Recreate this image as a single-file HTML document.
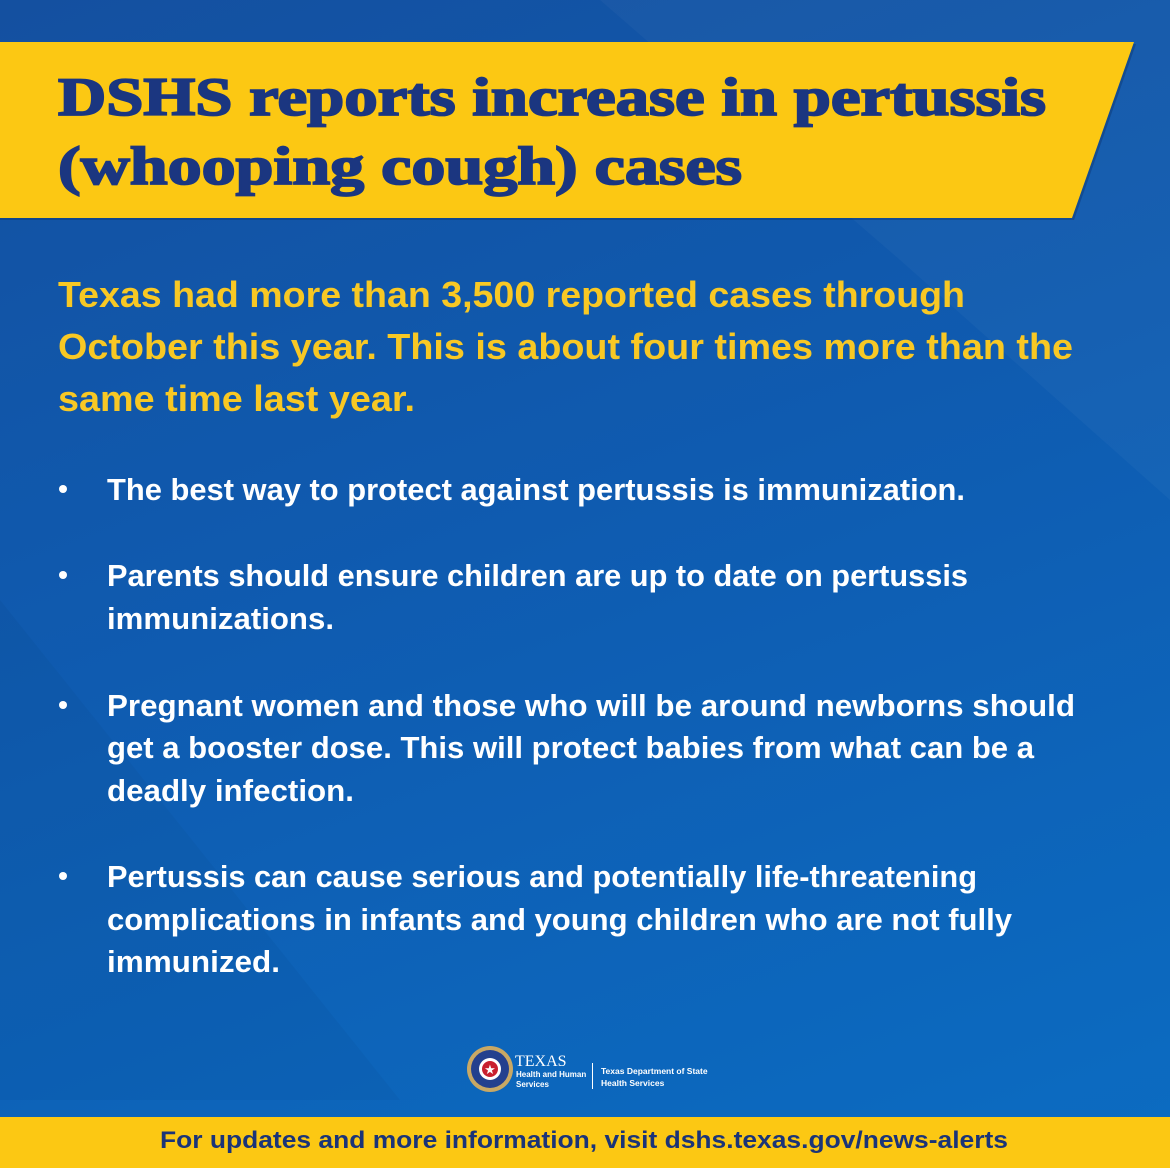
<!DOCTYPE html>
<html><head><meta charset="utf-8"><style>
html,body{margin:0;padding:0;}
body{width:1170px;height:1168px;overflow:hidden;background:linear-gradient(160deg,#1450a0 0%,#0f5bb0 45%,#0b6cc2 100%);}
svg{display:block}
.y{fill:#f8c824;font-family:"Liberation Sans",sans-serif;font-weight:bold;font-size:36px}
.w{fill:#ffffff;font-family:"Liberation Sans",sans-serif;font-weight:bold;font-size:31px}
.t{fill:#1b3680;stroke:#1b3680;stroke-width:1.8px;font-family:"Liberation Serif",serif;font-weight:bold;font-size:54px}
</style></head><body>
<svg width="1170" height="1168" viewBox="0 0 1170 1168">
<polygon points="600,0 1170,0 1170,500 900,260" fill="#ffffff" opacity="0.03"/>
<polygon points="0,600 400,1100 0,1100" fill="#000000" opacity="0.03"/>
<polygon points="0,44 1136,44 1074,220 0,220" fill="#0a2a60" opacity="0.35"/>
<polygon points="0,42 1134,42 1072,218 0,218" fill="#fcc813"/>
<text class="t" x="58" y="115" textLength="988" lengthAdjust="spacingAndGlyphs">DSHS reports increase in pertussis</text>
<text class="t" x="58" y="184" textLength="684" lengthAdjust="spacingAndGlyphs">(whooping cough) cases</text>
<g>
<text class="y" x="58" y="307" textLength="907" lengthAdjust="spacingAndGlyphs">Texas had more than 3,500 reported cases through</text>
<text class="y" x="58" y="359" textLength="1015" lengthAdjust="spacingAndGlyphs">October this year. This is about four times more than the</text>
<text class="y" x="58" y="411" textLength="357" lengthAdjust="spacingAndGlyphs">same time last year.</text>
</g>
<g>
<circle cx="63" cy="489" r="4" fill="#fff"/>
<text class="w" x="107" y="500" textLength="858" lengthAdjust="spacingAndGlyphs">The best way to protect against pertussis is immunization.</text>
<circle cx="63" cy="575" r="4" fill="#fff"/>
<text class="w" x="107" y="586" textLength="861" lengthAdjust="spacingAndGlyphs">Parents should ensure children are up to date on pertussis</text>
<text class="w" x="107" y="629" textLength="227" lengthAdjust="spacingAndGlyphs">immunizations.</text>
<circle cx="63" cy="705" r="4" fill="#fff"/>
<text class="w" x="107" y="716" textLength="968" lengthAdjust="spacingAndGlyphs">Pregnant women and those who will be around newborns should</text>
<text class="w" x="107" y="758" textLength="927" lengthAdjust="spacingAndGlyphs">get a booster dose. This will protect babies from what can be a</text>
<text class="w" x="107" y="801" textLength="247" lengthAdjust="spacingAndGlyphs">deadly infection.</text>
<circle cx="63" cy="876" r="4" fill="#fff"/>
<text class="w" x="107" y="887" textLength="870" lengthAdjust="spacingAndGlyphs">Pertussis can cause serious and potentially life-threatening</text>
<text class="w" x="107" y="930" textLength="905" lengthAdjust="spacingAndGlyphs">complications in infants and young children who are not fully</text>
<text class="w" x="107" y="972" textLength="173" lengthAdjust="spacingAndGlyphs">immunized.</text>
</g>
<g>
<circle cx="490" cy="1069" r="23" fill="#c9a864"/>
<circle cx="490" cy="1069" r="19" fill="#23408e"/>
<circle cx="490" cy="1069" r="11" fill="#fff"/>
<circle cx="490" cy="1069" r="8" fill="#c8202f"/>
<text x="490" y="1074" text-anchor="middle" font-size="13" fill="#fff" font-family="DejaVu Sans">★</text>
<text x="515" y="1066" font-family="Liberation Serif,serif" font-size="16" fill="#fff">TEXAS</text>
<text x="516" y="1077" font-family="Liberation Sans,sans-serif" font-weight="bold" font-size="8" fill="#fff">Health and Human</text>
<text x="516" y="1087" font-family="Liberation Sans,sans-serif" font-weight="bold" font-size="8" fill="#fff">Services</text>
<rect x="592" y="1063" width="1" height="26" fill="#fff"/>
<text x="601" y="1074" font-family="Liberation Sans,sans-serif" font-weight="bold" font-size="8.5" fill="#fff">Texas Department of State</text>
<text x="601" y="1086" font-family="Liberation Sans,sans-serif" font-weight="bold" font-size="8.5" fill="#fff">Health Services</text>
</g>
<rect x="0" y="1117" width="1170" height="51" fill="#fcc813"/>
<text x="160" y="1148" textLength="848" lengthAdjust="spacingAndGlyphs" font-family="Liberation Sans,sans-serif" font-weight="bold" font-size="24" fill="#1b3478">For updates and more information, visit dshs.texas.gov/news-alerts</text>
</svg>
</body></html>
